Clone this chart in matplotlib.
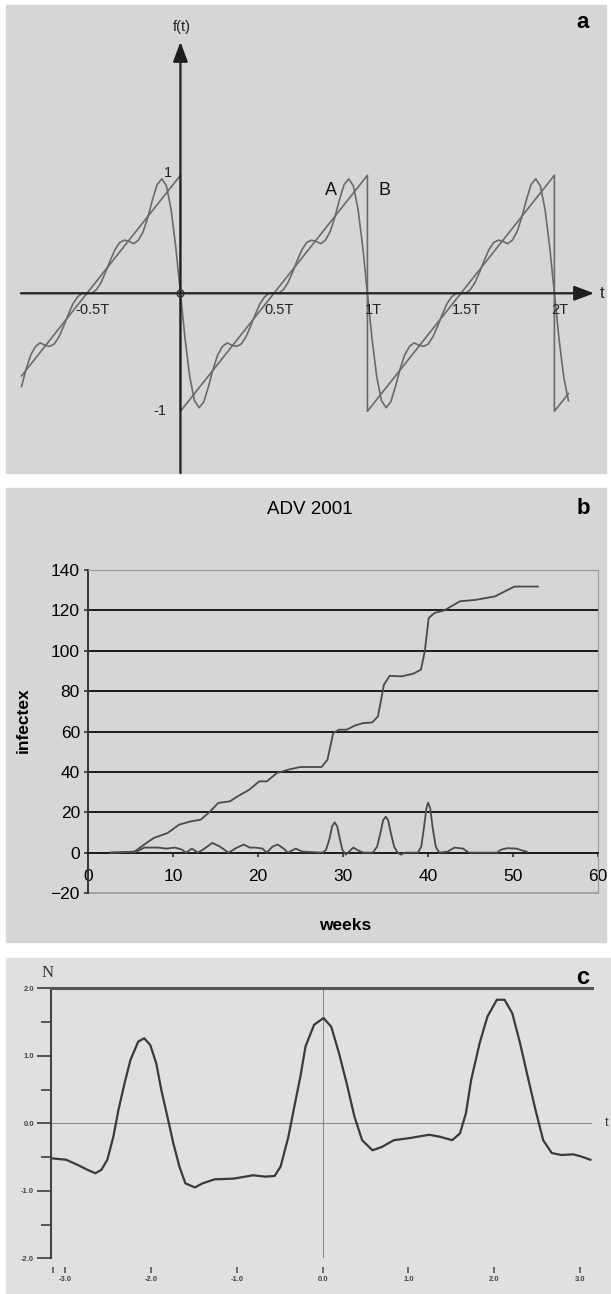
import numpy as np
import matplotlib
matplotlib.use("Agg")
import matplotlib.pyplot as plt
from matplotlib.patches import Rectangle

plt.rcParams['font.family'] = ['Liberation Sans', 'DejaVu Sans']

W, H = 611, 1294

# ---- panel a : sawtooth (B) and its Fourier approximation (A), read off one period
a_phase = [0.000, 0.025, 0.050, 0.075, 0.100, 0.125, 0.150, 0.175, 0.200, 0.225,
           0.250, 0.275, 0.300, 0.325, 0.350, 0.375, 0.400, 0.425, 0.450, 0.475,
           0.500, 0.525, 0.550, 0.575, 0.600, 0.625, 0.650, 0.675, 0.700, 0.725,
           0.750, 0.775, 0.800, 0.825, 0.850, 0.875, 0.900, 0.925, 0.950, 0.975]
a_value = [0.00, -0.39, -0.71, -0.91, -0.97, -0.92, -0.79, -0.64, -0.52, -0.45,
           -0.42, -0.44, -0.45, -0.43, -0.37, -0.28, -0.18, -0.09, -0.03, -0.00,
           0.00, 0.00, 0.03, 0.09, 0.18, 0.28, 0.37, 0.43, 0.45, 0.44,
           0.42, 0.45, 0.52, 0.64, 0.79, 0.92, 0.97, 0.91, 0.71, 0.39]
a_periods = [-1, 0, 1, 2]
a_range = (-0.85, 2.075)
saw_t = [-0.85, 0, 0, 1, 1, 2, 2, 2.075]
saw_f = [-0.70, 1, -1, 1, -1, 1, -1, -0.85]
a_ticks = [-0.5, 0.5, 1, 1.5, 2]
a_ticklabels = ['-0.5T', '0.5T', '1T', '1.5T', '2T']

# ---- panel b : ADV 2001
cum_weeks = [2.67, 5.44, 6.58, 7.72, 9.33, 10.71, 12.09, 13.23, 14.37, 15.29,
             16.67, 17.59, 18.96, 20.12, 21.02, 22.18, 23.55, 24.93, 27.45, 28.15,
             28.83, 29.51, 30.43, 31.35, 32.27, 33.42, 34.10, 34.80, 35.48, 36.86,
             38.23, 39.15, 39.61, 40.07, 40.75, 41.91, 43.74, 45.57, 47.86, 50.16, 52.91]
cum_infected = [0, 0.5, 4, 7.3, 9.7, 13.9, 15.5, 16.3, 20.5, 24.6,
                25.4, 27.9, 31.2, 35.3, 35.3, 39.4, 41.1, 42.4, 42.4, 46,
                59.2, 60.9, 60.9, 62.9, 64.1, 64.5, 67.5, 83.2, 87.6, 87.3,
                88.6, 90.6, 99.7, 116.2, 118.7, 120, 124.5, 125.2, 126.9, 131.8, 131.8]
new_weeks = [2.6, 5.6, 6.6, 8.2, 9.2, 10.2, 11.0, 11.5, 12.2, 12.9, 13.5, 14.6, 15.5,
             16.5, 17.5, 18.3, 19.0, 19.7, 20.5, 21.0, 21.7, 22.3, 23.0, 23.5, 24.4,
             25.2, 27.6, 28.0, 28.4, 28.7, 29.0, 29.3, 29.6, 29.9, 30.3, 30.7, 31.2,
             31.8, 32.4, 33.5, 34.0, 34.4, 34.7, 35.0, 35.3, 35.6, 36.0, 36.4, 36.8,
             37.3, 38.8, 39.2, 39.5, 39.8, 40.0, 40.25, 40.55, 40.9, 41.3, 42.3, 43.1,
             44.1, 44.8, 48.1, 48.6, 49.3, 50.4, 51.1, 51.6]
new_infected = [0, 0.3, 2.5, 2.5, 2, 2.5, 1.5, 0, 2, 0, 1.5, 4.8, 3,
                0, 2.5, 4, 2.5, 2.5, 2, 0, 3, 4, 2, 0, 2,
                0.5, 0, 1.5, 7, 13, 15, 13, 7, 1.5, -1, 0.5, 2.5,
                1, 0, 0, 3, 10, 16, 17.8, 16, 10, 3, 0, -1,
                0, 0, 3, 12, 22, 24.8, 22, 12, 3, 0, 0.5, 2.5,
                2, 0, 0, 1.5, 2.2, 2, 1, 0.5]

# ---- panel c
c_t = [-3.15, -2.99, -2.85, -2.74, -2.65, -2.58, -2.51, -2.44, -2.38, -2.31,
       -2.24, -2.15, -2.08, -2.01, -1.94, -1.88, -1.81, -1.74, -1.67, -1.60,
       -1.49, -1.40, -1.26, -1.04, -0.81, -0.67, -0.56, -0.49, -0.40, -0.33,
       -0.26, -0.20, -0.10, 0.01, 0.10, 0.19, 0.28, 0.37, 0.46, 0.58,
       0.69, 0.83, 1.01, 1.24, 1.37, 1.51, 1.60, 1.67, 1.73, 1.83,
       1.92, 2.03, 2.12, 2.21, 2.30, 2.39, 2.48, 2.57, 2.67, 2.78,
       2.92, 3.01, 3.12]
c_n = [-0.52, -0.54, -0.62, -0.69, -0.74, -0.69, -0.54, -0.20, 0.20, 0.59,
       0.94, 1.21, 1.26, 1.16, 0.89, 0.49, 0.10, -0.30, -0.64, -0.89,
       -0.95, -0.89, -0.83, -0.82, -0.77, -0.79, -0.78, -0.64, -0.20, 0.25,
       0.69, 1.14, 1.46, 1.56, 1.43, 1.04, 0.59, 0.10, -0.25, -0.40,
       -0.35, -0.25, -0.22, -0.17, -0.20, -0.25, -0.15, 0.15, 0.64, 1.19,
       1.58, 1.83, 1.83, 1.63, 1.19, 0.69, 0.20, -0.25, -0.44, -0.47,
       -0.46, -0.49, -0.54]


def rect(x0, y0, x1, y1):
    return [x0 / W, 1 - y1 / H, (x1 - x0) / W, (y1 - y0) / H]


def fpos(x, y):
    return x / W, 1 - y / H


fig = plt.figure(figsize=(W / 100, H / 100), dpi=100)
fig.patch.set_facecolor('white')

for (x0, y0, x1, y1), col in [((6, 5, 606, 473), '#d6d6d6'),
                              ((6, 488, 606, 942), '#d6d6d6'),
                              ((6, 958, 611, 1294), '#e0e0e0')]:
    fig.add_artist(Rectangle((x0 / W, 1 - y1 / H), (x1 - x0) / W, (y1 - y0) / H,
                             transform=fig.transFigure, color=col, zorder=0))

# ================= panel a
ax = fig.add_axes(rect(6, 5, 606, 473))
ax.set_xlim(-0.933, 2.276)
ax.set_ylim(-1.523, 2.443)
ax.axis('off')

t_all, f_all = [], []
for p in a_periods:
    for ph, v in zip(a_phase, a_value):
        t = p + ph
        if a_range[0] <= t <= a_range[1]:
            t_all.append(t)
            f_all.append(v)
line_col = '#6a6a6a'
ax.plot(t_all, f_all, color=line_col, lw=1.2, zorder=3)
ax.plot(saw_t, saw_f, color=line_col, lw=1.2, zorder=3)

arrow = dict(arrowstyle='-|>,head_length=1.2,head_width=0.45', mutation_scale=10,
             color='#1e1e1e', lw=1.6, shrinkA=0, shrinkB=0)
ax.annotate('', xy=(2.212, 0), xytext=(-0.853, 0), arrowprops=arrow, zorder=4)
ax.annotate('', xy=(0, 2.13), xytext=(0, -1.523), arrowprops=arrow, zorder=4)
ax.plot(0, 0, 'o', ms=5, mfc='none', mec='#333333', mew=1.0, zorder=5)

for t, lab in zip(a_ticks, a_ticklabels):
    ax.text(t + 0.03, -0.14, lab, ha='center', va='center', fontsize=10.5, color='#222')
ax.text(-0.066, 1.02, '1', ha='center', va='center', fontsize=10.5, color='#222')
ax.text(-0.11, -1.0, '-1', ha='center', va='center', fontsize=10.5, color='#222')
ax.text(2.254, 0.0, 't', ha='center', va='center', fontsize=12, color='#222')
ax.text(0.008, 2.257, 'f(t)', ha='center', va='center', fontsize=10.5, color='#222')
ax.text(0.805, 0.875, 'A', ha='center', va='center', fontsize=13, color='#111')
ax.text(1.09, 0.875, 'B', ha='center', va='center', fontsize=13, color='#111')
fig.text(*fpos(583, 23), 'a', ha='center', va='center', fontsize=16, weight='bold')

# ================= panel b
bx = fig.add_axes(rect(88.3, 570, 598, 893))
bx.patch.set_alpha(0)
bx.set_xlim(0, 60)
bx.set_ylim(-20, 140)
for y in range(20, 121, 20):
    bx.axhline(y, color='#1a1a1a', lw=1.4, zorder=1)
bx.axhline(-20, color='#9a9a9a', lw=1.2, clip_on=False)
bx.spines['top'].set_color('#9a9a9a')
bx.spines['right'].set_color('#9a9a9a')
bx.spines['left'].set_color('#333333')
bx.spines['left'].set_linewidth(1.4)
bx.spines['bottom'].set_position(('data', 0))
bx.spines['bottom'].set_color('#1a1a1a')
bx.spines['bottom'].set_linewidth(1.4)
bx.set_yticks(range(-20, 141, 20))
bx.set_xticks(range(0, 61, 10))
bx.tick_params(axis='y', direction='out', length=3, width=1.2, labelsize=12.5, pad=3,
               color='#333')
bx.tick_params(axis='x', direction='out', length=3, width=1.2, labelsize=12.5, pad=9,
               color='#333')
bx.plot(cum_weeks, cum_infected, color='#4a4a4a', lw=1.3, zorder=3)
bx.plot(new_weeks, new_infected, color='#4a4a4a', lw=1.3, zorder=3)
fig.text(*fpos(310, 510), 'ADV 2001', ha='center', va='center', fontsize=13.5)
fig.text(*fpos(583, 508), 'b', ha='center', va='center', fontsize=16, weight='bold')
fig.text(*fpos(345, 925), 'weeks', ha='center', va='center', fontsize=12.5, weight='bold')
fig.text(*fpos(23, 720), 'infectex', ha='center', va='center', fontsize=12.5,
         weight='bold', rotation=90)

# ================= panel c
cx = fig.add_axes(rect(50.7, 988.3, 592, 1258.3))
cx.patch.set_alpha(0)
cx.set_xlim(-3.170, 3.139)
cx.set_ylim(-2, 2)
cx.spines['right'].set_visible(False)
cx.spines['bottom'].set_position(('outward', 6))
cx.spines['bottom'].set_visible(False)
cx.spines['left'].set_color('#444444')
cx.spines['left'].set_linewidth(1.5)
cx.spines['top'].set_color('#555555')
cx.spines['top'].set_linewidth(2.2)
cx.axhline(0, color='#8a8a8a', lw=0.8)
cx.axvline(0, color='#8a8a8a', lw=0.8)
cx.set_yticks([-2, -1, 0, 1, 2])
cx.set_yticklabels(['-2.0', '-1.0', '0.0', '1.0', '2.0'])
cx.set_yticks([-1.5, -0.5, 0.5, 1.5], minor=True)
cx.set_xticks([-np.pi, -3, -2, -1, 0, 1, 2, 3])
cx.set_xticklabels(['', '-3.0', '-2.0', '-1.0', '0.0', '1.0', '2.0', '3.0'])
cx.tick_params(axis='y', which='major', length=10, width=1.4, color='#555',
               labelsize=5.5, pad=2)
cx.tick_params(axis='y', which='minor', length=7.5, width=1.4, color='#555')
cx.tick_params(axis='x', length=4.5, width=1.2, color='#555', labelsize=5.5, pad=2)
for lab in cx.get_xticklabels() + cx.get_yticklabels():
    lab.set_fontweight('bold')
    lab.set_color('#444')
cx.plot(c_t, c_n, color='#3a3a3a', lw=1.6, zorder=3)
fig.text(*fpos(48, 973), 'N', ha='center', va='center', fontsize=12,
         family=['Liberation Serif', 'DejaVu Serif'], color='#333')
fig.text(*fpos(607, 1123), 't', ha='center', va='center', fontsize=9, color='#333')
fig.text(*fpos(583, 978), 'c', ha='center', va='center', fontsize=17, weight='bold')

fig.savefig('out.png', dpi=100)
